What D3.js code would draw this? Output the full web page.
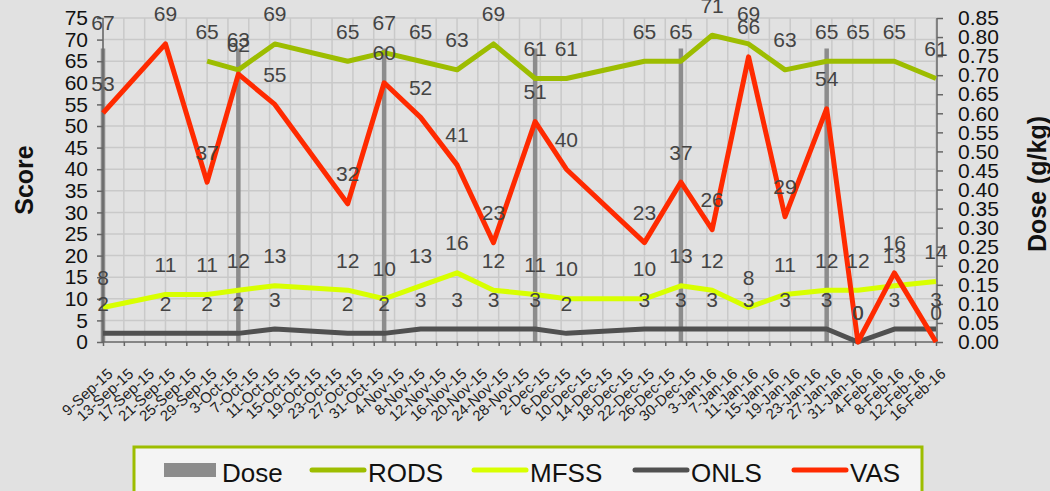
<!DOCTYPE html>
<html>
<head>
<meta charset="utf-8">
<script src="https://cdn.jsdelivr.net/npm/d3@7"></script>
<style>
  html, body { margin: 0; padding: 0; background: #e1e1e1; }
  svg { display: block; font-family: "Liberation Sans", Arial, sans-serif; }
</style>
</head>
<body>
<svg id="chart" width="1050" height="491"></svg>
<script>
// Visit dates
const dates = ["2015-09-09","2015-09-21","2015-09-29","2015-10-05","2015-10-12","2015-10-26",
  "2015-11-02","2015-11-09","2015-11-16","2015-11-23","2015-12-01","2015-12-07","2015-12-22",
  "2015-12-29","2016-01-04","2016-01-11","2016-01-18","2016-01-26","2016-02-01","2016-02-08","2016-02-16"];

// Scores (left axis)
const rods = [67, null, 65, 63, 69, 65, 67, 65, 63, 69, 61, 61, 65, 65, 71, 69, 63, 65, 65, 65, 61];
const mfss = [8, 11, 11, 12, 13, 12, 10, 13, 16, 12, 11, 10, 10, 13, 12, 8, 11, 12, 12, 13, 14];
const onls = [2, 2, 2, 2, 3, 2, 2, 3, 3, 3, 3, 2, 3, 3, 3, 3, 3, 3, 0, 3, 3];
const vas  = [53, 69, 37, 62, 55, 32, 60, 52, 41, 23, 51, 40, 23, 37, 26, 66, 29, 54, 0, 16, 0];

// Dose in g/kg (right axis), given on infusion days only
const dose = [0.77, null, null, 0.77, null, null, 0.77, null, null, null, 0.77, null, null,
  0.77, null, null, null, 0.77, null, null, null];

// Date axis tick labels, every 4 days
const xTickLabels = ["9-Sep-15","13-Sep-15","17-Sep-15","21-Sep-15","25-Sep-15","29-Sep-15",
  "3-Oct-15","7-Oct-15","11-Oct-15","15-Oct-15","19-Oct-15","23-Oct-15","27-Oct-15","31-Oct-15",
  "4-Nov-15","8-Nov-15","12-Nov-15","16-Nov-15","20-Nov-15","24-Nov-15","28-Nov-15",
  "2-Dec-15","6-Dec-15","10-Dec-15","14-Dec-15","18-Dec-15","22-Dec-15","26-Dec-15","30-Dec-15",
  "3-Jan-16","7-Jan-16","11-Jan-16","15-Jan-16","19-Jan-16","23-Jan-16","27-Jan-16","31-Jan-16",
  "4-Feb-16","8-Feb-16","12-Feb-16","16-Feb-16"];

const scoreTicks = d3.range(0, 80, 5);
const doseTicks = d3.range(0, 0.851, 0.05);

const seriesNames = ["RODS", "MFSS", "ONLS", "VAS"];
const seriesColors = ["#9dbd00", "#d8ff00", "#505050", "#ff2a00"];
const doseColor = "#8c8c8c";

const parseDay = d3.utcParse("%Y-%m-%d");
const parseTick = d3.utcParse("%-d-%b-%y");
const dayDates = dates.map(parseDay);
const tickDates = xTickLabels.map(parseTick);

const svg = d3.select("#chart");
const plotL = 103, plotR = 936, plotT = 18, plotB = 342;

const x = d3.scaleUtc().domain([dayDates[0], dayDates[dayDates.length - 1]]).range([plotL, plotR]);
const y = d3.scaleLinear().domain([0, 75]).range([plotB, plotT]);
const y2 = d3.scaleLinear().domain([0, 0.85]).range([plotB, plotT]);

// Gridlines
const grid = svg.append("g").attr("stroke", "#c9c9c9").attr("stroke-width", 1.5);
grid.selectAll("line.h").data(scoreTicks.filter(d => d > 0)).join("line").attr("class", "h")
  .attr("x1", plotL).attr("x2", plotR + 1).attr("y1", d => y(d)).attr("y2", d => y(d));
grid.selectAll("line.v").data(tickDates).join("line").attr("class", "v")
  .attr("x1", d => x(d)).attr("x2", d => x(d)).attr("y1", plotT).attr("y2", plotB);

// Dose bars
const barW = 4.5;
svg.append("g").selectAll("rect").data(dose.map((v, i) => ({ v, d: dayDates[i] })).filter(o => o.v != null))
  .join("rect")
  .attr("x", o => x(o.d) - barW / 2).attr("width", barW)
  .attr("y", o => y2(o.v)).attr("height", o => y2(0) - y2(o.v))
  .attr("fill", doseColor);

// Axes
const axisColor = "#666";
const bottomAxis = d3.axisBottom(x).tickValues(tickDates).tickSize(4).tickFormat(() => "");
const gb = svg.append("g").attr("transform", `translate(0,${plotB})`).call(bottomAxis);
gb.select(".domain").attr("stroke", axisColor).attr("stroke-width", 1.5).attr("d", `M${plotL},0H${plotR + 1}`);
gb.selectAll(".tick line").attr("stroke", axisColor).attr("stroke-width", 1.5);

const leftAxis = d3.axisLeft(y).tickValues(scoreTicks).tickSize(6).tickPadding(9).tickFormat(d3.format("d"));
const gl = svg.append("g").attr("transform", `translate(${plotL},0)`).call(leftAxis);
gl.select(".domain").attr("stroke", axisColor).attr("stroke-width", 1.5).attr("d", `M0,${plotT}V${plotB}`);
gl.selectAll(".tick line").attr("stroke", axisColor).attr("stroke-width", 1.5);
gl.selectAll(".tick text").attr("font-size", 21).attr("fill", "#111").attr("font-family", "Liberation Sans, Arial, sans-serif");

const rightAxis = d3.axisRight(y2).tickValues(doseTicks).tickSize(6).tickPadding(15).tickFormat(d3.format(".2f"));
const gr = svg.append("g").attr("transform", `translate(${plotR + 1},0)`).call(rightAxis);
gr.select(".domain").attr("stroke", axisColor).attr("stroke-width", 1.5).attr("d", `M0,${plotT}V${plotB}`);
gr.selectAll(".tick line").attr("stroke", axisColor).attr("stroke-width", 1.5);
gr.selectAll(".tick text").attr("font-size", 21).attr("fill", "#111").attr("font-family", "Liberation Sans, Arial, sans-serif");

// Date labels, rotated
svg.append("g").selectAll("text").data(xTickLabels).join("text")
  .attr("transform", (t, i) => `translate(${x(tickDates[i]) + 7},${plotB + 29}) rotate(-42)`)
  .attr("text-anchor", "end").attr("dominant-baseline", "central")
  .attr("font-size", 15).attr("fill", "#222")
  .text(t => t);

// Score lines (butt caps so a lone point with no neighbours stays unmarked)
const series = [rods, mfss, onls, vas];
const line = d3.line()
  .defined(d => d.v != null)
  .x(d => x(d.d)).y(d => y(d.v));
series.forEach((vals, k) => {
  const pts = vals.map((v, i) => ({ v, d: dayDates[i] }));
  svg.append("path").datum(pts)
    .attr("d", line)
    .attr("fill", "none")
    .attr("stroke", seriesColors[k])
    .attr("stroke-width", 5)
    .attr("stroke-linejoin", "round")
    .attr("stroke-linecap", "butt");
});

// Value labels above each point
const labels = svg.append("g").attr("font-size", 21).attr("fill", "#444").attr("text-anchor", "middle");
series.forEach(vals => {
  labels.selectAll(null).data(vals.map((v, i) => ({ v, d: dayDates[i] })).filter(o => o.v != null))
    .join("text")
    .attr("x", o => x(o.d))
    .attr("y", o => y(o.v) - 22.5)
    .text(o => o.v);
});

// Axis titles
svg.append("text")
  .attr("transform", "translate(33,180) rotate(-90)")
  .attr("text-anchor", "middle").attr("font-size", 25).attr("font-weight", "bold").attr("fill", "#111")
  .text("Score");
svg.append("text")
  .attr("transform", "translate(1046,184) rotate(-90)")
  .attr("text-anchor", "middle").attr("font-size", 25).attr("font-weight", "bold").attr("fill", "#111")
  .text("Dose (g/kg)");

// Legend
const lg = svg.append("g");
lg.append("rect").attr("x", 134).attr("y", 447).attr("width", 788).attr("height", 70)
  .attr("fill", "#f4f4f4").attr("stroke", "#9dbd00").attr("stroke-width", 3);
const legendItems = [
  { name: "Dose", kind: "bar", color: doseColor, x0: 164 },
  { name: seriesNames[0], kind: "line", color: seriesColors[0], x0: 310 },
  { name: seriesNames[1], kind: "line", color: seriesColors[1], x0: 472 },
  { name: seriesNames[2], kind: "line", color: seriesColors[2], x0: 633 },
  { name: seriesNames[3], kind: "line", color: seriesColors[3], x0: 792 }
];
legendItems.forEach(it => {
  if (it.kind === "bar") {
    lg.append("rect").attr("x", it.x0).attr("y", 463).attr("width", 52).attr("height", 14).attr("fill", it.color);
  } else {
    lg.append("line").attr("x1", it.x0 + 2).attr("x2", it.x0 + 54).attr("y1", 470).attr("y2", 470)
      .attr("stroke", it.color).attr("stroke-width", 5).attr("stroke-linecap", "round");
  }
  lg.append("text").attr("x", it.x0 + 58).attr("y", 481.5)
    .attr("font-size", 26).attr("fill", "#111").text(it.name);
});
</script>
</body>
</html>
